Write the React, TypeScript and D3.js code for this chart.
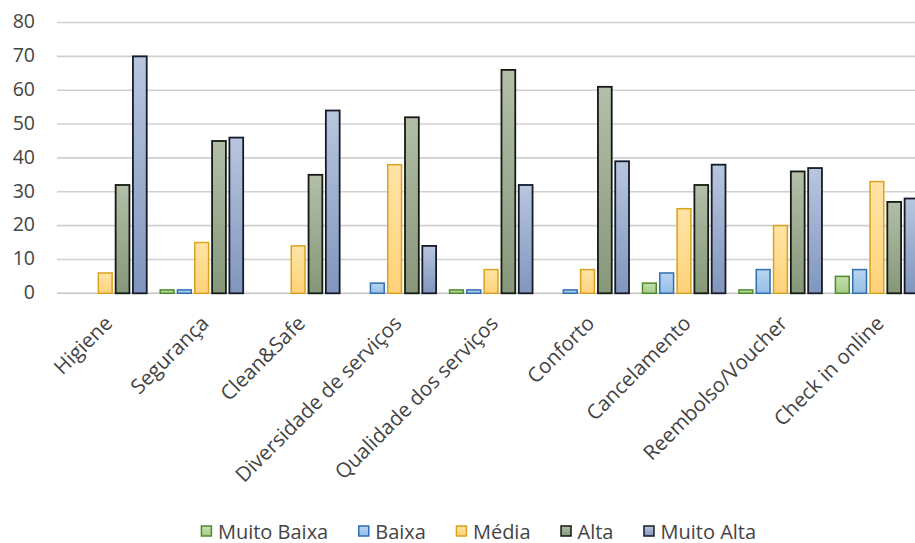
import React, { useEffect, useRef } from "react";
import * as d3 from "d3";

// Avaliação por critério, distribuída por nível de importância
const categories = [
  "Higiene",
  "Segurança",
  "Clean&Safe",
  "Diversidade de serviços",
  "Qualidade dos serviços",
  "Conforto",
  "Cancelamento",
  "Reembolso/Voucher",
  "Check in online",
];
const seriesNames = ["Muito Baixa", "Baixa", "Média", "Alta", "Muito Alta"];
const muitoBaixa = [0, 1, 0, 0, 1, 0, 3, 1, 5];
const baixa = [0, 1, 0, 3, 1, 1, 6, 7, 7];
const media = [6, 15, 14, 38, 7, 7, 25, 20, 33];
const alta = [32, 45, 35, 52, 66, 61, 32, 36, 27];
const muitoAlta = [70, 46, 54, 14, 32, 39, 38, 37, 28];
const yTicks = [0, 10, 20, 30, 40, 50, 60, 70, 80];

const seriesValues = [muitoBaixa, baixa, media, alta, muitoAlta];

// fill gradient (top, bottom) and outline per series
const styles = [
  { top: "#c3e0ae", bottom: "#a4cc88", stroke: "#4f8a2b", sw: 1.5 },
  { top: "#b7d5f0", bottom: "#96bfe6", stroke: "#2f6fae", sw: 1.5 },
  { top: "#ffe4a6", bottom: "#ffd27a", stroke: "#d9a21e", sw: 1.5 },
  { top: "#b3bfa9", bottom: "#869779", stroke: "#151a12", sw: 1.8 },
  { top: "#b8c6df", bottom: "#8195bd", stroke: "#161b2a", sw: 1.8 },
];

const W = 915;
const H = 543;
const FONT = "'Open Sans', 'DejaVu Sans', sans-serif";
const TEXT = "#444444";

export default function App() {
  const ref = useRef<SVGSVGElement | null>(null);

  useEffect(() => {
    const svg = d3.select(ref.current);
    svg.selectAll("*").remove();

    const left = 57;
    const band = 96.46;
    const x0 = d3
      .scaleBand<string>()
      .domain(categories)
      .range([left, left + band * categories.length])
      .paddingInner(0)
      .paddingOuter(0);
    const x1 = d3
      .scaleBand<string>()
      .domain(seriesNames)
      .range([0, x0.bandwidth()])
      .paddingInner(0.116)
      .paddingOuter(0.346);
    const y = d3.scaleLinear().domain([0, 80]).range([293.3, 22.5]);

    const defs = svg.append("defs");
    styles.forEach((s, i) => {
      const g = defs
        .append("linearGradient")
        .attr("id", `grad${i}`)
        .attr("x1", 0)
        .attr("y1", 0)
        .attr("x2", 0)
        .attr("y2", 1);
      g.append("stop").attr("offset", "0%").attr("stop-color", s.top);
      g.append("stop").attr("offset", "100%").attr("stop-color", s.bottom);
    });

    // gridlines
    svg
      .append("g")
      .selectAll("line")
      .data(yTicks)
      .join("line")
      .attr("x1", left)
      .attr("x2", left + band * categories.length)
      .attr("y1", (d) => y(d))
      .attr("y2", (d) => y(d))
      .attr("stroke", (d) => (d === 0 ? "#c4c4c4" : "#d0d0d0"))
      .attr("stroke-width", 1.6);

    // y tick labels
    svg
      .append("g")
      .selectAll("text")
      .data(yTicks)
      .join("text")
      .attr("x", 35)
      .attr("y", (d) => y(d))
      .attr("dy", "0.3em")
      .attr("text-anchor", "end")
      .attr("font-family", FONT)
      .attr("font-size", 19.5)
      .attr("fill", TEXT)
      .text((d) => d);

    // bars
    const groups = svg
      .append("g")
      .selectAll("g")
      .data(categories)
      .join("g")
      .attr("transform", (c) => `translate(${x0(c)},0)`);

    groups
      .selectAll("rect")
      .data((c, ci) =>
        seriesNames.map((s, si) => ({ s, si, v: seriesValues[si][ci] }))
      )
      .join("rect")
      .filter((d) => d.v > 0)
      .attr("x", (d) => x1(d.s)! + 0.75)
      .attr("width", x1.bandwidth() - 1.5)
      .attr("y", (d) => y(d.v))
      .attr("height", (d) => y(0) - y(d.v))
      .attr("fill", (d) => `url(#grad${d.si})`)
      .attr("stroke", (d) => styles[d.si].stroke)
      .attr("stroke-width", (d) => styles[d.si].sw);

    // category labels, rotated
    svg
      .append("g")
      .selectAll("text")
      .data(categories)
      .join("text")
      .attr(
        "transform",
        (c) => `translate(${x0(c)! + x0.bandwidth() / 2 - 2},${y(0) + 21}) rotate(-45)`
      )
      .attr("dy", "0.71em")
      .attr("text-anchor", "end")
      .attr("font-family", FONT)
      .attr("font-size", 20.5)
      .attr("fill", TEXT)
      .text((c) => c);

    // legend
    const legend = svg.append("g");
    const items = legend
      .selectAll("g")
      .data(seriesNames)
      .join("g");
    items
      .append("text")
      .attr("font-family", FONT)
      .attr("font-size", 20)
      .attr("fill", TEXT)
      .attr("y", 538.5)
      .text((d) => d);
    const widths: number[] = [];
    items.select("text").each(function () {
      widths.push((this as SVGTextElement).getComputedTextLength());
    });
    const sq = 11;
    const gap = 6;
    const spacing = 30;
    const total =
      d3.sum(widths) + seriesNames.length * (sq + gap) + spacing * (seriesNames.length - 1);
    let cursor = 478.5 - total / 2;
    items.each(function (d, i) {
      const g = d3.select(this);
      g.insert("rect", "text")
        .attr("x", cursor + 0.5)
        .attr("y", 526)
        .attr("width", sq - 1)
        .attr("height", sq - 1)
        .attr("fill", `url(#grad${i})`)
        .attr("stroke", styles[i].stroke)
        .attr("stroke-width", 1.5);
      g.select("text").attr("x", cursor + sq + gap);
      cursor += sq + gap + widths[i] + spacing;
    });
  }, []);

  return (
    <svg
      ref={ref}
      width={W}
      height={H}
      style={{ position: "absolute", left: 0, top: 0, background: "#fff" }}
    />
  );
}
